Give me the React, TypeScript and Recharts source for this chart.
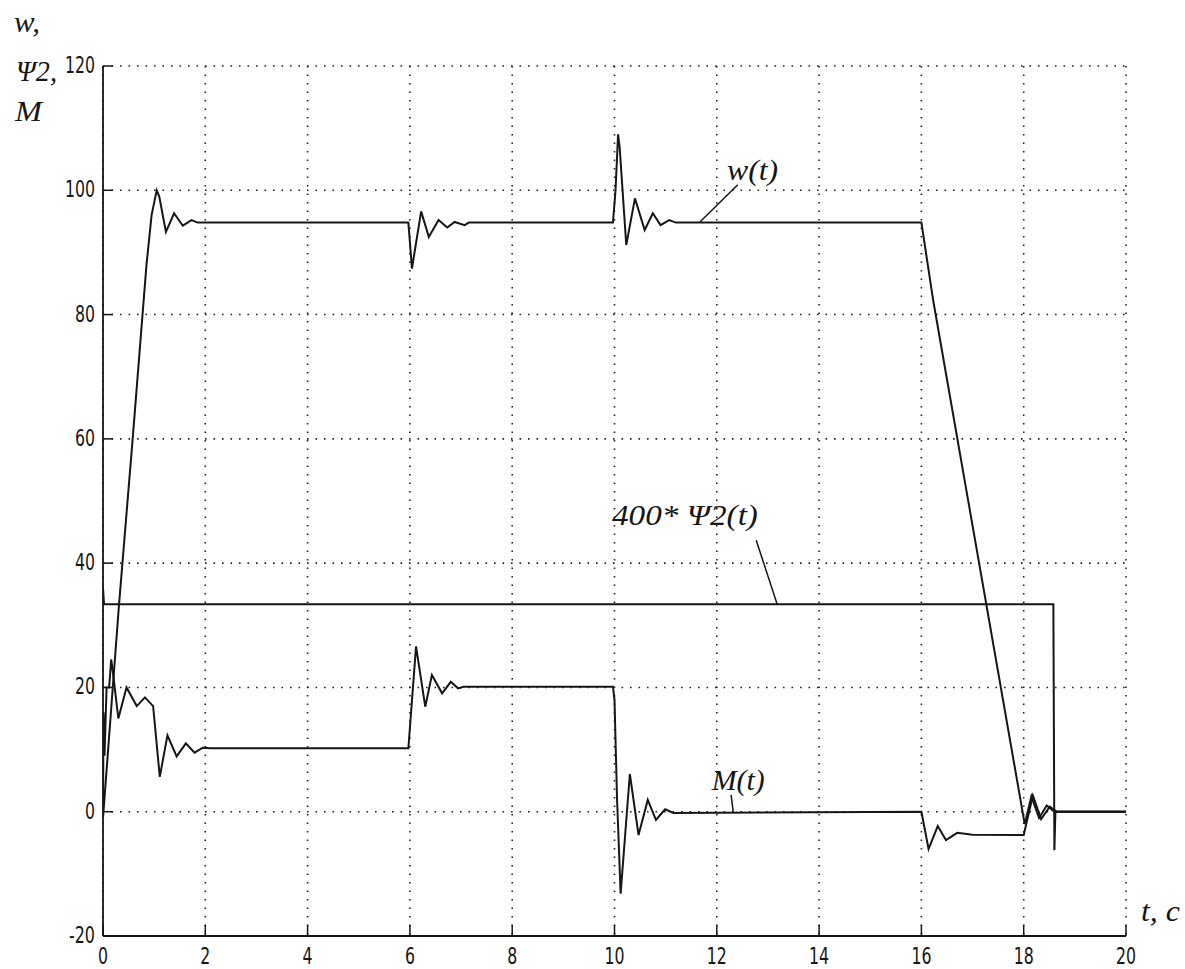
import React from "react";
import {
  CartesianGrid,
  Line,
  LineChart,
  ReferenceDot,
  ReferenceLine,
  XAxis,
  YAxis,
} from "recharts";

// axis ticks
const timeTicks = [0, 2, 4, 6, 8, 10, 12, 14, 16, 18, 20];
const valueTicks = [-20, 0, 20, 40, 60, 80, 100, 120];

// w(t) – speed
const wTime = [
  0, 0.31, 0.58, 0.85, 0.95, 1.05, 1.1, 1.23, 1.39, 1.56, 1.73, 1.85, 5.97, 6.04, 6.22, 6.37,
  6.56, 6.73, 6.875, 7.07, 7.15, 9.97, 10.02, 10.07, 10.1, 10.23, 10.4, 10.59, 10.75, 10.9,
  11.07, 11.2, 16.0, 16.23, 18.02, 18.15, 18.3, 18.45, 18.6, 20,
];
const wValue = [
  -1, 33, 60, 88, 96, 100, 99, 93.3, 96.3, 94.3, 95.2, 94.8, 94.8, 87.4, 96.6, 92.5, 95.2, 94,
  94.9, 94.4, 94.8, 94.8, 100, 109, 107, 91.2, 98.7, 93.6, 96.3, 94.4, 95.2, 94.8, 94.8, 82.3,
  -2, 2.5, -1, 1, 0, 0,
];

// M(t) – torque
const mTime = [
  0, 0.01, 0.03, 0.07, 0.12, 0.16, 0.2, 0.3, 0.46, 0.66, 0.82, 0.98, 1.11, 1.26, 1.44, 1.62,
  1.79, 1.95, 2.1, 5.97, 6.12, 6.3, 6.43, 6.63, 6.8, 6.94, 7.05, 9.97, 10.0, 10.05, 10.12, 10.3,
  10.47, 10.65, 10.81, 10.99, 11.15, 16.0, 16.14, 16.32, 16.48, 16.7, 17.0, 18.0, 18.18, 18.34,
  18.51, 18.65, 20,
];
const mValue = [
  0, 16, 9, 20, 20, 24.5, 22, 15, 20, 17, 18.4, 17, 5.6, 12.3, 8.9, 11, 9.5, 10.3, 10.2, 10.2,
  26.6, 16.9, 22, 19.05, 20.9, 19.85, 20.1, 20.1, 18, 2, -13.2, 6.07, -3.75, 1.9, -1.3, 0.4,
  -0.2, 0, -6, -2.3, -4.55, -3.4, -3.7, -3.75, 2.6, -1.2, 0.8, 0, 0,
];

// 400*Psi2(t) – flux
const psiTime = [0, 0.02, 18.58, 18.6, 18.62, 20];
const psiValue = [36, 33.4, 33.4, -6.2, 0, 0];

const rows = (ts: number[], vs: number[]) => ts.map((t, i) => ({ t, v: vs[i] }));
const wData = rows(wTime, wValue);
const mData = rows(mTime, mValue);
const psiData = rows(psiTime, psiValue);

const ink = "#161616";
const tickFont: React.CSSProperties = {
  fontFamily: "'DejaVu Sans Condensed', 'Liberation Sans', sans-serif",
  fontSize: 23,
  fill: ink,
};
const italic: React.CSSProperties = {
  fontFamily: "'Liberation Serif', 'DejaVu Serif', serif",
  fontStyle: "italic",
  fontSize: 30,
  fill: ink,
};

// narrow digits like the original screen font
const labelWidth = (v: number) => {
  const s = String(v);
  return s.replace("-", "").length * 10 + (s.startsWith("-") ? 6 : 0);
};

const BottomTick = (p: any) => (
  <g>
    <line x1={p.x} y1={p.y} x2={p.x} y2={p.y - 11} stroke={ink} strokeWidth={1.5} />
    <text
      x={p.x}
      y={p.y + 28}
      textAnchor="middle"
      style={tickFont}
      textLength={labelWidth(p.payload.value)}
      lengthAdjust="spacingAndGlyphs"
    >
      {p.payload.value}
    </text>
  </g>
);
const TopTick = (p: any) => (
  <line x1={p.x} y1={p.y} x2={p.x} y2={p.y + 11} stroke={ink} strokeWidth={1.5} />
);
const LeftTick = (p: any) => (
  <g>
    <line x1={p.x} y1={p.y} x2={p.x + 10} y2={p.y} stroke={ink} strokeWidth={1.5} />
    <text
      x={p.x - 8}
      y={p.y + 7}
      textAnchor="end"
      style={tickFont}
      textLength={labelWidth(p.payload.value)}
      lengthAdjust="spacingAndGlyphs"
    >
      {p.payload.value}
    </text>
  </g>
);
const RightTick = (p: any) => (
  <line x1={p.x} y1={p.y} x2={p.x - 10} y2={p.y} stroke={ink} strokeWidth={1.5} />
);

const note = (text: string, len: number) => (props: any) => {
  const vb = props.viewBox || {};
  return (
    <text x={vb.x} y={vb.y} style={italic} textLength={len} lengthAdjust="spacingAndGlyphs">
      {text}
    </text>
  );
};

export default function App() {
  return (
    <div style={{ position: "absolute", left: 0, top: 0, width: 1185, height: 969, background: "#fff" }}>
      <LineChart width={1185} height={969} margin={{ top: 66, right: 59, bottom: 0, left: 0 }}>
        <CartesianGrid stroke="#222" strokeWidth={1.6} strokeDasharray="1.6 6.9" />
        <XAxis
          dataKey="t"
          type="number"
          domain={[0, 20]}
          ticks={timeTicks}
          allowDataOverflow
          height={33}
          tickSize={0}
          tickMargin={0}
          tickLine={false}
          axisLine={{ stroke: ink, strokeWidth: 1.8 }}
          tick={BottomTick}
          interval={0}
        />
        <XAxis
          xAxisId="top"
          orientation="top"
          dataKey="t"
          type="number"
          domain={[0, 20]}
          ticks={timeTicks}
          allowDataOverflow
          height={0}
          tickSize={0}
          tickMargin={0}
          tickLine={false}
          axisLine={{ stroke: ink, strokeWidth: 1.8 }}
          tick={TopTick}
          interval={0}
        />
        <YAxis
          type="number"
          domain={[-20, 120]}
          ticks={valueTicks}
          allowDataOverflow
          width={103}
          tickSize={0}
          tickMargin={0}
          tickLine={false}
          axisLine={{ stroke: ink, strokeWidth: 1.8 }}
          tick={LeftTick}
          interval={0}
        />
        <YAxis
          yAxisId="right"
          orientation="right"
          type="number"
          domain={[-20, 120]}
          ticks={valueTicks}
          allowDataOverflow
          width={0}
          tickSize={0}
          tickMargin={0}
          tickLine={false}
          axisLine={{ stroke: ink, strokeWidth: 1.8 }}
          tick={RightTick}
          interval={0}
        />

        <Line data={psiData} dataKey="v" stroke={ink} strokeWidth={2} dot={false} isAnimationActive={false} />
        <Line data={mData} dataKey="v" stroke={ink} strokeWidth={2} dot={false} isAnimationActive={false} />
        <Line data={wData} dataKey="v" stroke={ink} strokeWidth={2} dot={false} isAnimationActive={false} />

        {/* leader lines */}
        <ReferenceLine segment={[{ x: 12.41, y: 100.9 }, { x: 11.67, y: 94.9 }]} stroke={ink} strokeWidth={1.5} ifOverflow="visible" />
        <ReferenceLine segment={[{ x: 12.77, y: 43.7 }, { x: 13.18, y: 33.4 }]} stroke={ink} strokeWidth={1.5} ifOverflow="visible" />
        <ReferenceLine segment={[{ x: 12.28, y: 2.7 }, { x: 12.32, y: 0 }]} stroke={ink} strokeWidth={1.5} ifOverflow="visible" />

        {/* annotations */}
        <ReferenceDot x={12.2} y={101.7} r={0} fill="none" stroke="none" ifOverflow="visible" label={note("w(t)", 51)} />
        <ReferenceDot x={9.95} y={46.1} r={0} fill="none" stroke="none" ifOverflow="visible" label={note("400*  Ψ2(t)", 146)} />
        <ReferenceDot x={11.9} y={3.5} r={0} fill="none" stroke="none" ifOverflow="visible" label={note("M(t)", 53)} />
      </LineChart>

      <svg width={1185} height={969} style={{ position: "absolute", left: 0, top: 0, pointerEvents: "none" }}>
        <text x={14} y={32} style={italic} textLength={26} lengthAdjust="spacingAndGlyphs">w,</text>
        <text x={16} y={81} style={italic} textLength={41} lengthAdjust="spacingAndGlyphs">Ψ2,</text>
        <text x={15} y={121} style={italic} textLength={27} lengthAdjust="spacingAndGlyphs">M</text>
        <text x={1141} y={921} style={italic} textLength={39} lengthAdjust="spacingAndGlyphs">t, c</text>
      </svg>
    </div>
  );
}
